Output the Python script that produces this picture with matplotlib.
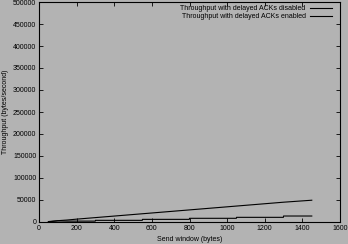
import matplotlib
matplotlib.use("Agg")
import matplotlib.pyplot as plt

plt.rcParams['font.family'] = ['Liberation Sans', 'DejaVu Sans']

# Data
window_disabled = [50, 100, 150, 200, 300, 400, 500, 600, 700, 800, 900, 1000, 1100, 1200, 1300, 1400, 1450]
tput_disabled = [1000, 3000, 4500, 6500, 10000, 13500, 17000, 20500, 24000, 27500, 31000, 34500, 38000, 41500, 45000, 48000, 49500]

window_enabled = [50, 100, 150, 200, 299, 300, 549, 550, 799, 800, 1049, 1050, 1299, 1300, 1450]
tput_enabled = [500, 2500, 2000, 2000, 2000, 3800, 3800, 6000, 6000, 8400, 8400, 10600, 10600, 13600, 13600]

label_disabled = "Throughput with delayed ACKs disabled"
label_enabled = "Throughput with delayed ACKs enabled"
xlabel = "Send window (bytes)"
ylabel = "Throughput (bytes/second)"
xticks = list(range(0, 1601, 200))
yticks = list(range(0, 500001, 50000))

bg = '#b3b3b3'
fig = plt.figure(figsize=(3.48, 2.44), dpi=100, facecolor=bg)
ax = fig.add_axes([39/348, 1-222/244, 301/348, 220/244])
ax.set_facecolor(bg)

ax.plot(window_disabled, tput_disabled, color='black', lw=0.8, label=label_disabled)
ax.plot(window_enabled, tput_enabled, color='black', lw=0.8, label=label_enabled)

ax.set_xlim(0, 1600)
ax.set_ylim(0, 500000)
ax.set_xticks(xticks)
ax.set_yticks(yticks)
ax.set_xticklabels([str(t) for t in xticks])
ax.set_yticklabels([str(t) for t in yticks])
ax.tick_params(direction='in', length=3, width=0.6, labelsize=5, top=True, right=True, pad=2)
for s in ax.spines.values():
    s.set_linewidth(0.8)

ax.set_xlabel(xlabel, fontsize=5, labelpad=3)
ax.set_ylabel(ylabel, fontsize=5, labelpad=3)

leg = ax.legend(loc='upper right', bbox_to_anchor=((332-39)/301, (222-5)/220),
                frameon=False, fontsize=5, markerfirst=False, handlelength=3.2,
                handletextpad=0.6, borderpad=0, borderaxespad=0, labelspacing=0.2)

fig.savefig('out.png', dpi=100, facecolor=bg)
